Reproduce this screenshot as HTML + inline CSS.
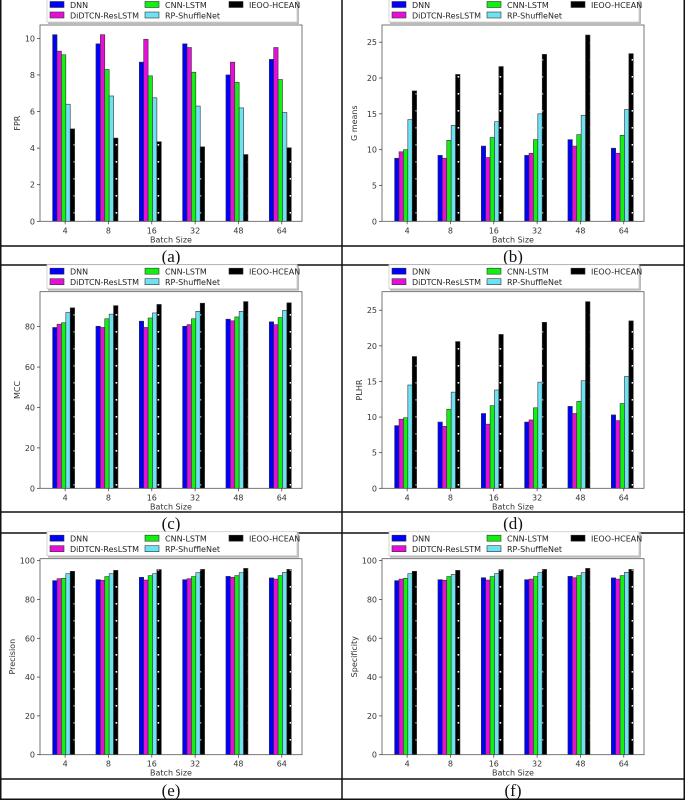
<!DOCTYPE html>
<html><head><meta charset="utf-8"><style>
html,body{margin:0;padding:0;background:#fff;}
svg{display:block;}
text{font-family:"DejaVu Sans","Liberation Sans",sans-serif;}
</style></head>
<body>
<svg id="fig" width="685" height="800" viewBox="0 0 685 800">
<defs>
<pattern id="dots" x="0" y="0" width="6" height="17" patternUnits="userSpaceOnUse">
<rect width="6" height="17" fill="#000"/>
<rect x="1.6" y="8" width="1.6" height="1.6" fill="#fff"/>
</pattern>
</defs>
<g id="grid"></g>
<g id="panels"></g>
</svg>
<script>
const categories = ["4","8","16","32","48","64"];
const seriesNames = ["DNN","DiDTCN-ResLSTM","CNN-LSTM","RP-ShuffleNet","IEOO-HCEAN"];

const fprDNN = [10.2,9.7,8.7,9.7,8.0,8.85];
const fprDiDTCN = [9.3,10.2,9.95,9.5,8.7,9.5];
const fprCNN = [9.1,8.3,7.95,8.15,7.6,7.75];
const fprRP = [6.4,6.85,6.75,6.3,6.2,5.95];
const fprIEOO = [5.05,4.55,4.35,4.07,3.65,4.02];

const gmDNN = [8.8,9.2,10.5,9.2,11.4,10.2];
const gmDiDTCN = [9.7,8.8,8.9,9.5,10.5,9.5];
const gmCNN = [10.0,11.3,11.7,11.4,12.1,12.0];
const gmRP = [14.2,13.4,13.9,15.0,14.8,15.6];
const gmIEOO = [18.2,20.5,21.6,23.3,26.0,23.4];

const mccDNN = [79.6,80.2,82.7,80.2,83.7,82.4];
const mccDiDTCN = [81.2,79.6,79.6,81.0,82.9,81.0];
const mccCNN = [81.9,83.9,84.3,83.9,84.8,84.5];
const mccRP = [87.0,86.2,86.8,87.6,87.6,88.0];
const mccIEOO = [89.3,90.4,91.0,91.6,92.4,91.8];

const plDNN = [8.8,9.3,10.5,9.3,11.5,10.3];
const plDiDTCN = [9.7,8.7,9.0,9.6,10.5,9.5];
const plCNN = [9.9,11.1,11.6,11.3,12.2,11.9];
const plRP = [14.5,13.5,13.8,14.9,15.1,15.7];
const plIEOO = [18.5,20.6,21.6,23.3,26.2,23.5];

const precDNN = [89.7,90.2,91.4,90.2,91.9,91.1];
const precDiDTCN = [90.7,89.9,90.0,90.7,91.4,90.5];
const precCNN = [90.9,91.8,92.3,91.8,92.3,92.3];
const precRP = [93.3,93.3,93.3,93.8,93.8,94.0];
const precIEOO = [94.5,95.0,95.4,95.5,96.0,95.5];

const specDNN = [89.7,90.2,91.2,90.2,91.9,91.1];
const specDiDTCN = [90.5,89.9,90.0,90.5,91.2,90.5];
const specCNN = [90.9,91.8,91.8,91.8,92.3,92.3];
const specRP = [93.3,92.9,93.3,93.8,93.8,94.0];
const specIEOO = [94.5,95.0,95.4,95.5,96.0,95.5];

const fprTicks = [0,2,4,6,8,10];
const gmTicks = [0,5,10,15,20,25];
const mccTicks = [0,20,40,60,80];
const plTicks = [0,5,10,15,20,25];
const precTicks = [0,20,40,60,80,100];
const specTicks = [0,20,40,60,80,100];

const colors = ["#0000ff","#e60fd8","#11f011","#6ee2f2","url(#dots)"];
const NS = "http://www.w3.org/2000/svg";
function mk(tag, attrs, parent){const e=document.createElementNS(NS,tag);for(const k in attrs)e.setAttribute(k,attrs[k]);parent.appendChild(e);return e;}

// grid lines of the table
const grid = document.getElementById('grid');
[[0.75,0,0.75,800],[684.25,0,684.25,800],[342,0,342,800],[0,246,685,246],[0,265,685,265],[0,512,685,512],[0,533,685,533],[0,779,685,779],[0,799.25,685,799.25]].forEach(function(l){
  const ln = mk('line',{x1:l[0],y1:l[1],x2:l[2],y2:l[3],stroke:'#111','stroke-width':1.5},grid);
  
  
});

const panels = [
 {id:'a',x0:0,top:25,bottom:221.3,ymax:10.73,ticks:fprTicks,label:'FPR',series:[fprDNN,fprDiDTCN,fprCNN,fprRP,fprIEOO],capY:256},
 {id:'b',x0:342,top:25,bottom:221.3,ymax:27.4,ticks:gmTicks,label:'G means',series:[gmDNN,gmDiDTCN,gmCNN,gmRP,gmIEOO],capY:256},
 {id:'c',x0:0,top:291.7,bottom:488.3,ymax:97.3,ticks:mccTicks,label:'MCC',series:[mccDNN,mccDiDTCN,mccCNN,mccRP,mccIEOO],capY:523},
 {id:'d',x0:342,top:291.7,bottom:488.3,ymax:27.6,ticks:plTicks,label:'PLHR',series:[plDNN,plDiDTCN,plCNN,plRP,plIEOO],capY:523},
 {id:'e',x0:0,top:558.7,bottom:754.7,ymax:101,ticks:precTicks,label:'Precision',series:[precDNN,precDiDTCN,precCNN,precRP,precIEOO],capY:790},
 {id:'f',x0:342,top:558.7,bottom:754.7,ymax:101,ticks:specTicks,label:'Specificity',series:[specDNN,specDiDTCN,specCNN,specRP,specIEOO],capY:790}
];

const root = document.getElementById('panels');
panels.forEach(function(p){
  const g = mk('g',{},root);
  
  
  const L = p.x0+40, R = p.x0+302;
  const yS = function(v){return p.bottom - v/p.ymax*(p.bottom-p.top);};
  const xS = function(i){return L + (i+0.58)*43.33;};
  const bw = 4.4;
  // bars
  p.series.forEach(function(arr,s){
    arr.forEach(function(v,i){
      const x = xS(i) - 12.5 + s*bw;
      const r = mk('rect',{x:x,y:yS(v),width:bw,height:p.bottom-yS(v),fill:colors[s],stroke:'#333','stroke-width':0.6},g);
      
      
    });
  });
  // frame
  const fr = mk('rect',{x:L,y:p.top,width:R-L,height:p.bottom-p.top,fill:'none',stroke:'#555','stroke-width':0.8},g);
  
  
  // y ticks
  p.ticks.forEach(function(t){
    const y = yS(t);
    mk('line',{x1:L-3,y1:y,x2:L,y2:y,stroke:'#333','stroke-width':0.7},g);
    const tx = mk('text',{x:L-5,y:y+3,'font-size':8,'text-anchor':'end',fill:'#333'},g);
    tx.textContent = t;
    
    
  });
  // x ticks
  categories.forEach(function(c,i){
    const x = xS(i);
    mk('line',{x1:x,y1:p.bottom,x2:x,y2:p.bottom+3,stroke:'#333','stroke-width':0.7},g);
    const tx = mk('text',{x:x,y:p.bottom+12,'font-size':8,'text-anchor':'middle',fill:'#333'},g);
    tx.textContent = c;
    
    
  });
  const xl = mk('text',{x:(L+R)/2,y:p.bottom+21,'font-size':8,'text-anchor':'middle',fill:'#333'},g);
  xl.textContent = 'Batch Size';
  
  
  const ycx = p.x0 + (p.label.length>6?15:20), ycy = (p.top+p.bottom)/2;
  const yl = mk('text',{x:ycx,y:ycy,'font-size':8,'text-anchor':'middle',fill:'#333',transform:'rotate(-90 '+ycx+' '+ycy+')'},g);
  yl.textContent = p.label;
  
  
  // legend
  const lg = mk('g',{},g);
  
  
  const lt = p.top - 27, lb = p.top - 2;
  mk('rect',{x:p.x0+48,y:Math.max(lt,0)+1,width:251,height:lb-Math.max(lt,0),fill:'#bbb'},lg);
  mk('rect',{x:p.x0+47,y:Math.max(lt,-5),width:250,height:lb-1-Math.max(lt,-5),fill:'#fff',stroke:'#ccc','stroke-width':0.8},lg);
  const pos = [[50,0],[50,1],[145,0],[145,1],[229,0]];
  seriesNames.forEach(function(n,s){
    const ry = p.top - 20 + pos[s][1]*10.5;
    const px = p.x0 + pos[s][0];
    const sw = mk('rect',{x:px,y:ry-3.5,width:14,height:6,fill:s===4?'#000':colors[s],stroke:'#333','stroke-width':0.6},lg);
    
    
    const tx = mk('text',{x:px+20,y:ry+3,'font-size':8,fill:'#222'},lg);
    tx.textContent = n;
    
    
  });
  const cap = mk('text',{x:p.x0+171,y:p.capY+6,'font-size':17,'text-anchor':'middle',fill:'#111','font-family':'"Liberation Serif",serif'},g);
  cap.setAttribute('style','font-family:"Liberation Serif",serif');
  cap.textContent = '('+p.id+')';
  
  
});
</script>
</body></html>
